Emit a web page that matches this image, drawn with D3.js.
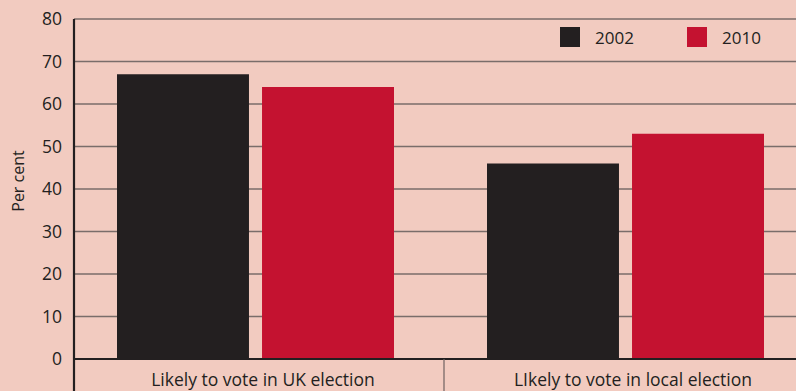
<!DOCTYPE html>
<html>
<head>
<meta charset="utf-8">
<script src="https://cdn.jsdelivr.net/npm/d3@7"></script>
<style>
  html, body { margin: 0; padding: 0; background: #f2cbc0; }
  svg { display: block; }
  text { font-family: "Open Sans", "Noto Sans", sans-serif; fill: #231f20; }
</style>
</head>
<body>
<svg id="chart" width="796" height="391"></svg>
<script>
// Share of people likely to vote, by election type and survey year
const categories = ["Likely to vote in UK election", "LIkely to vote in local election"];
const years = ["2002", "2010"];
const values2002 = [67, 46];
const values2010 = [64, 53];
const yTicks = [0, 10, 20, 30, 40, 50, 60, 70, 80];
const colors = ["#231f20", "#c41230"];

const svg = d3.select("#chart");
const W = 796, H = 391;
const x0 = 74, yTop = 19, yBase = 359;

const y = d3.scaleLinear().domain([0, 80]).range([yBase, yTop]);

// Each category band is 370px wide; the second runs off the right edge
const xCat = d3.scaleBand().domain(categories).range([x0, x0 + 740]).padding(0);
const xYear = d3.scaleBand().domain(years).range([43, 320]).paddingInner(0.09).paddingOuter(0);

const series = [values2002, values2010];

// Horizontal gridlines
svg.append("g")
  .selectAll("line")
  .data(yTicks.filter(t => t > 0))
  .join("line")
  .attr("x1", x0).attr("x2", W)
  .attr("y1", d => y(d)).attr("y2", d => y(d))
  .attr("stroke", "#7a6d6a")
  .attr("stroke-width", 1.3);

// Bars
const groups = svg.append("g")
  .selectAll("g")
  .data(categories)
  .join("g")
  .attr("transform", d => `translate(${xCat(d)},0)`);

groups.selectAll("rect")
  .data((d, i) => years.map((yr, j) => ({ yr, v: series[j][i], j })))
  .join("rect")
  .attr("x", d => xYear(d.yr))
  .attr("width", xYear.bandwidth())
  .attr("y", d => y(d.v))
  .attr("height", d => yBase - y(d.v))
  .attr("fill", d => colors[d.j]);

// Y axis
const yAxis = d3.axisLeft(y).tickValues(yTicks).tickSize(0).tickPadding(12);
const ya = svg.append("g").attr("transform", `translate(${x0},0)`).call(yAxis);
ya.select(".domain").remove();
ya.selectAll("text")
  .style("font-family", '"Open Sans", "Noto Sans", sans-serif')
  .style("font-size", "17.5px")
  .attr("fill", "#231f20");

// Axis lines
svg.append("line")
  .attr("x1", x0).attr("x2", x0)
  .attr("y1", yTop).attr("y2", H)
  .attr("stroke", "#231f20").attr("stroke-width", 2.2);
svg.append("line")
  .attr("x1", x0).attr("x2", W)
  .attr("y1", yBase).attr("y2", yBase)
  .attr("stroke", "#231f20").attr("stroke-width", 2.2);

// Category separators below the baseline
svg.append("g")
  .selectAll("line")
  .data(categories.slice(1))
  .join("line")
  .attr("x1", d => xCat(d)).attr("x2", d => xCat(d))
  .attr("y1", yBase).attr("y2", H)
  .attr("stroke", "#6e6260").attr("stroke-width", 1.2);

// Category labels
svg.append("g")
  .selectAll("text")
  .data(categories)
  .join("text")
  .attr("x", d => xCat(d) + xCat.bandwidth() / 2 + 4)
  .attr("y", 386)
  .attr("text-anchor", "middle")
  .style("font-size", "17.5px")
  .text(d => d);

// Y axis title
svg.append("text")
  .attr("transform", `translate(24,181) rotate(-90)`)
  .attr("text-anchor", "middle")
  .style("font-size", "16px")
  .text("Per cent");

// Legend
const legend = svg.append("g")
  .selectAll("g")
  .data(years)
  .join("g")
  .attr("transform", (d, i) => `translate(${560 + i * 127},27)`);
legend.append("rect")
  .attr("width", 20).attr("height", 20)
  .attr("fill", (d, i) => colors[i]);
legend.append("text")
  .attr("x", 35).attr("y", 17)
  .style("font-size", "17px")
  .text(d => d);
</script>
</body>
</html>
